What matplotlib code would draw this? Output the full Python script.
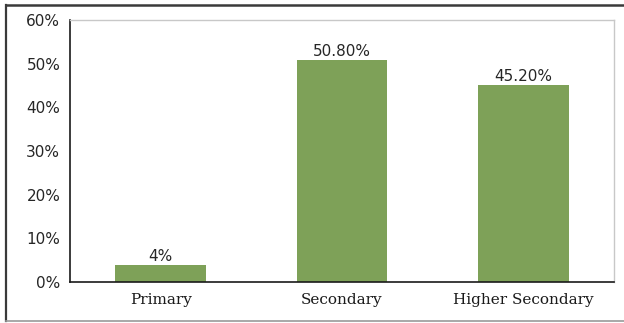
import matplotlib
matplotlib.use("Agg")
import matplotlib.pyplot as plt
from matplotlib.lines import Line2D
from matplotlib.ticker import FuncFormatter

categories = ["Primary", "Secondary", "Higher Secondary"]
shares = [4.0, 50.8, 45.2]
value_labels = ["4%", "50.80%", "45.20%"]
y_ticks = [0, 10, 20, 30, 40, 50, 60]

W, H = 624, 323
fig = plt.figure(figsize=(W / 100, H / 100), dpi=100)
fig.patch.set_facecolor("white")

# outer frame of the chart image
fig.add_artist(Line2D([6 / W, 6 / W], [1 - 5 / H, 1 - 321 / H], transform=fig.transFigure,
                      color="#3a3a3a", lw=1.6))
fig.add_artist(Line2D([6 / W, 1.0], [1 - 5 / H, 1 - 5 / H], transform=fig.transFigure,
                      color="#3a3a3a", lw=1.8))
fig.add_artist(Line2D([6 / W, 1.0], [1 - 321 / H, 1 - 321 / H], transform=fig.transFigure,
                      color="#9a9a9a", lw=1.2))

ax = fig.add_axes([70 / W, 1 - 282 / H, (614 - 70) / W, (282 - 20) / H])
x = range(len(categories))
bars = ax.bar(x, shares, width=0.5, color="#7ea158", zorder=2)

ax.set_xlim(-0.5, len(categories) - 0.5)
ax.set_ylim(0, 60)
ax.set_yticks(y_ticks)
ax.yaxis.set_major_formatter(FuncFormatter(lambda v, p: f"{v:.0f}%"))
ax.set_xticks(list(x))
ax.set_xticklabels(categories, family="DejaVu Serif", fontsize=11, color="#1a1a1a")
ax.tick_params(axis="y", length=0, pad=7, labelsize=11, labelcolor="#262626")
ax.tick_params(axis="x", length=0, pad=8)

for side in ("top", "right"):
    ax.spines[side].set_color("#c8c8c8")
    ax.spines[side].set_linewidth(1.0)
for side in ("left", "bottom"):
    ax.spines[side].set_color("#1a1a1a")
    ax.spines[side].set_linewidth(1.2)

for rect, lab in zip(bars, value_labels):
    ax.annotate(lab, (rect.get_x() + rect.get_width() / 2, rect.get_height()),
                xytext=(0, 0.5), textcoords="offset points", ha="center", va="bottom",
                fontsize=11, color="#262626")

fig.savefig("out.png", dpi=100, facecolor="white")
